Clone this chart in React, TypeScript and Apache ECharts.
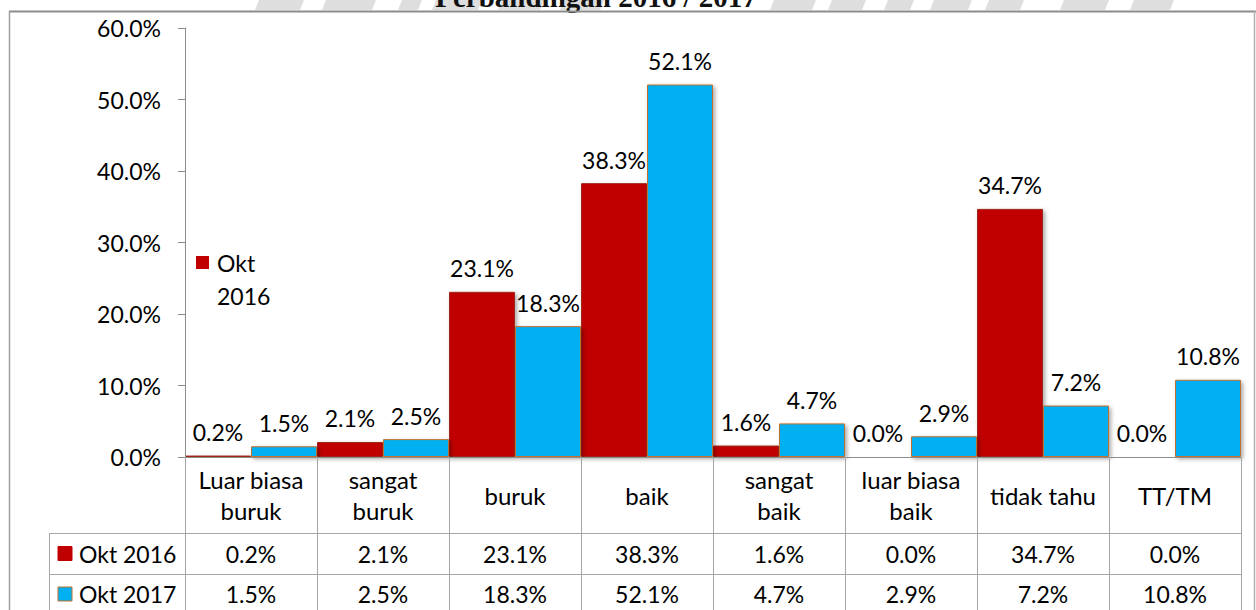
import React, { useEffect, useRef } from "react";
import * as echarts from "echarts";

const categories = [
  "Luar biasa\nburuk",
  "sangat\nburuk",
  "buruk",
  "baik",
  "sangat\nbaik",
  "luar biasa\nbaik",
  "tidak tahu",
  "TT/TM",
];
const seriesNames = ["Okt 2016", "Okt 2017"];
const okt2016 = [0.2, 2.1, 23.1, 38.3, 1.6, 0.0, 34.7, 0.0];
const okt2017 = [1.5, 2.5, 18.3, 52.1, 4.7, 2.9, 7.2, 10.8];
const yMin = 0;
const yMax = 60;
const yStep = 10;
const titleText = "Perbandingan 2016 / 2017";

const RED = "#C00000";
const BLUE = "#00B0F0";
const FONT = "Lato, 'Noto Sans', sans-serif";
const FS = 23;
const fmt = (v: number) => `${v.toFixed(1)}%`;

// layout
const W = 1256;
const H = 610;
const GL = 185;
const GR = 1241;
const GT = 28;
const GB = 457;
const ROW1 = 533;
const ROW2 = 574;
const HDR_X = 49;
const LINE = "#a6a6a6";

const watermark: number[][] = [
  [255, 300], [322, 372], [398, 418], [432, 478], [498, 540], [560, 600],
  [770, 812], [828, 862], [884, 910], [930, 968], [985, 1020], [1060, 1105], [1130, 1170],
];

export default function App() {
  const ref = useRef<HTMLDivElement>(null);
  useEffect(() => {
    if (!ref.current) return;
    const chart = echarts.init(ref.current, null, { renderer: "svg" });
    const textStyle = { fontFamily: FONT, fontSize: FS, color: "#000" };
    const rowAxis = (data: number[], margin: number) => ({
      type: "category",
      gridIndex: 0,
      position: "bottom",
      z: 7,
      data: data.map(fmt),
      axisLine: { show: false },
      axisTick: { show: false },
      splitLine: { show: false },
      axisLabel: { ...textStyle, interval: 0, margin, verticalAlign: "middle" },
    });
    const barStyle = (color: string, border: string) => ({
      color,
      borderColor: border,
      borderWidth: 1,
      shadowColor: "rgba(0,0,0,0.35)",
      shadowBlur: 4,
      shadowOffsetX: 2,
      shadowOffsetY: 2,
    });
    const graphics: any[] = [];
    // watermark
    watermark.forEach(([a, b]) => {
      graphics.push({
        type: "polygon",
        silent: true,
        z: 0,
        shape: { points: [[a + 4, 0], [b + 4, 0], [b, 10], [a, 10]] },
        style: { fill: "#dedede" },
      });
    });
    graphics.push({
      type: "text",
      x: 596,
      y: 11,
      z: 1,
      style: {
        text: titleText,
        font: "bold 29px 'Liberation Serif', serif",
        fill: "#111",
        align: "center",
        verticalAlign: "bottom",
      },
    });
    // frame
    graphics.push(
      { type: "line", z: 3, shape: { x1: 9, y1: 11.5, x2: W, y2: 11.5 }, style: { stroke: "#8c8c8c", lineWidth: 2 } },
      { type: "line", z: 3, shape: { x1: 9.5, y1: 11, x2: 9.5, y2: H }, style: { stroke: "#a0a0a0", lineWidth: 1.5 } },
      { type: "line", z: 3, shape: { x1: 1254.5, y1: 11, x2: 1254.5, y2: H }, style: { stroke: "#b0b0b0", lineWidth: 1.5 } },
    );
    // table lines
    graphics.push(
      { type: "line", z: 3, shape: { x1: HDR_X, y1: ROW1 + 0.5, x2: GR, y2: ROW1 + 0.5 }, style: { stroke: LINE, lineWidth: 1 } },
      { type: "line", z: 3, shape: { x1: HDR_X, y1: ROW2 + 0.5, x2: GR, y2: ROW2 + 0.5 }, style: { stroke: LINE, lineWidth: 1 } },
      { type: "line", z: 3, shape: { x1: HDR_X + 0.5, y1: ROW1, x2: HDR_X + 0.5, y2: H }, style: { stroke: LINE, lineWidth: 1 } },
    );
    // row headers
    const rows = [
      { name: seriesNames[0], color: RED, border: RED, cy: (ROW1 + ROW2) / 2 },
      { name: seriesNames[1], color: BLUE, border: "#C0712E", cy: ROW2 + 20 },
    ];
    rows.forEach((r) => {
      graphics.push(
        { type: "rect", z: 4, shape: { x: 58, y: r.cy - 7, width: 14, height: 14 }, style: { fill: r.color, stroke: r.border, lineWidth: 1 } },
        { type: "text", z: 4, x: 79, y: r.cy, style: { text: r.name, font: `${FS}px ${FONT}`, fill: "#000", verticalAlign: "middle" } },
      );
    });
    // in-plot legend
    graphics.push(
      { type: "rect", z: 4, shape: { x: 196, y: 256, width: 13, height: 13 }, style: { fill: RED } },
      { type: "text", z: 4, x: 217, y: 263, style: { text: seriesNames[0].split(" ")[0], font: `${FS}px ${FONT}`, fill: "#000", verticalAlign: "middle" } },
      { type: "text", z: 4, x: 217, y: 296, style: { text: seriesNames[0].split(" ")[1], font: `${FS}px ${FONT}`, fill: "#000", verticalAlign: "middle" } },
    );

    chart.setOption({
      animation: false,
      backgroundColor: "#fff",
      grid: { left: GL, right: W - GR, top: GT, bottom: H - GB, containLabel: false },
      xAxis: [
        {
          type: "category",
          data: categories,
          z: 6,
          axisLine: { show: true, lineStyle: { color: "#8c8c8c", width: 1 } },
          axisTick: { show: true, interval: 0, length: H - GB, lineStyle: { color: LINE, width: 1 } },
          axisLabel: { ...textStyle, fontSize: 24, interval: 0, margin: 38, verticalAlign: "middle", lineHeight: 31, align: "center" },
          splitLine: { show: false },
        },
        rowAxis(okt2016, (ROW1 + ROW2) / 2 - GB),
        rowAxis(okt2017, ROW2 + 20 - GB),
      ],
      yAxis: {
        type: "value",
        min: yMin,
        max: yMax,
        interval: yStep,
        z: 6,
        axisLine: { show: true, lineStyle: { color: "#8c8c8c", width: 1 } },
        axisTick: { show: true, length: 7, lineStyle: { color: "#8c8c8c" } },
        splitLine: { show: false },
        axisLabel: { ...textStyle, margin: 24, formatter: (v: number) => fmt(v) },
      },
      graphic: { elements: graphics },
      series: [
        {
          name: seriesNames[0],
          type: "bar",
          xAxisIndex: 0,
          data: okt2016,
          barGap: "0%",
          barCategoryGap: "0%",
          z: 5,
          itemStyle: barStyle(RED, "#A0281A"),
          label: { show: true, position: "top", distance: 12, ...textStyle, formatter: (p: any) => fmt(p.value) },
        },
        {
          name: seriesNames[1],
          type: "bar",
          xAxisIndex: 0,
          data: okt2017,
          barGap: "0%",
          barCategoryGap: "0%",
          z: 5,
          itemStyle: barStyle(BLUE, "#C0712E"),
          label: { show: true, position: "top", distance: 12, ...textStyle, formatter: (p: any) => fmt(p.value) },
        },
      ],
    });
    return () => chart.dispose();
  }, []);
  return (
    <div
      ref={ref}
      style={{ position: "fixed", left: 0, top: 0, width: W, height: H }}
    />
  );
}
